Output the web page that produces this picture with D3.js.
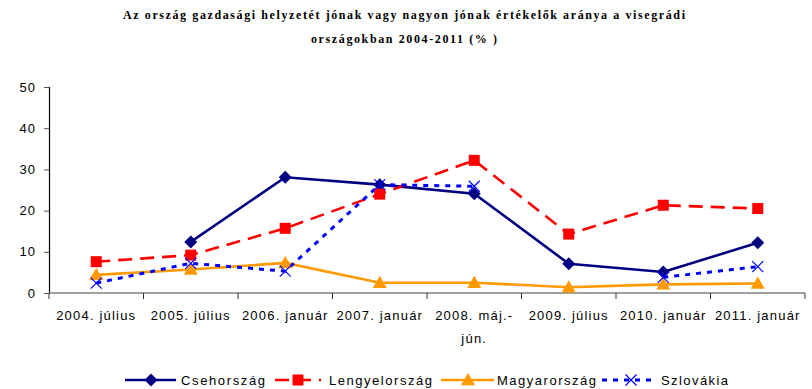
<!DOCTYPE html>
<html>
<head>
<meta charset="utf-8">
<script src="https://cdn.jsdelivr.net/npm/d3@7/dist/d3.min.js"></script>
<style>
  html, body { margin: 0; padding: 0; background: #fff; }
  svg { display: block; }
  .tick text { font-family: "Liberation Sans", Arial, sans-serif; font-size: 13px; fill: #000; letter-spacing: 1px; }
</style>
</head>
<body>
<svg id="chart" width="812" height="389"></svg>
<script>
// Survey periods (x axis)
const categories = [
  "2004. július", "2005. július", "2006. január", "2007. január",
  "2008. máj.-\njún.", "2009. július", "2010. január", "2011. január"
];

// Share of respondents rating the economy good or very good (%)
const csehorszag    = [null, 12.4, 28.1, 26.3, 24.1, 7.1, 5.1, 12.2];
const lengyelorszag = [7.6, 9.2, 15.7, 24.0, 32.2, 14.3, 21.3, 20.5];
const magyarorszag  = [4.4, 5.7, 7.3, 2.5, 2.5, 1.4, 2.1, 2.3];
const szlovakia     = [2.4, 7.2, 5.3, 26.3, 25.9, null, 3.8, 6.4];

const yTicks = [0, 10, 20, 30, 40, 50];

const titleLines = [
  "Az ország gazdasági helyzetét jónak vagy nagyon jónak értékelők aránya a visegrádi",
  "országokban 2004-2011 (% )"
];

const series = [
  { name: "Csehország",    values: csehorszag,    color: "#000080", dash: null,    marker: "diamond" },
  { name: "Lengyelország", values: lengyelorszag, color: "#FF0000", dash: "14,8",  marker: "square" },
  { name: "Magyarország",  values: magyarorszag,  color: "#FF9900", dash: null,    marker: "triangle" },
  { name: "Szlovákia",     values: szlovakia,     color: "#0000FF", dash: "5,6",   marker: "cross" }
];

const svg = d3.select("#chart");
const margin = { left: 49, right: 7, top: 87, bottom: 96 };
const W = 812, H = 389;

const x = d3.scaleBand().domain(d3.range(categories.length))
  .range([margin.left, W - margin.right]).paddingInner(0).paddingOuter(0);
const y = d3.scaleLinear().domain([0, 50]).range([H - margin.bottom, margin.top]);

// Title
const title = svg.append("g")
  .attr("font-family", "'Liberation Serif', 'Times New Roman', serif")
  .attr("font-weight", "bold")
  .attr("font-size", 12)
  .attr("fill", "#000")
  .attr("text-anchor", "middle");
title.append("text").attr("x", 404).attr("y", 19)
  .attr("textLength", 562).attr("lengthAdjust", "spacing").text(titleLines[0]);
title.append("text").attr("x", 404).attr("y", 43)
  .attr("textLength", 186).attr("lengthAdjust", "spacing").text(titleLines[1]);

// Y axis
const yAxis = svg.append("g")
  .attr("transform", `translate(${margin.left},0)`)
  .call(d3.axisLeft(y).tickValues(yTicks).tickSize(5).tickPadding(8).tickFormat(d3.format("d")));
yAxis.select(".domain").attr("stroke", "#000").attr("stroke-width", 1.2);
yAxis.selectAll(".tick line").attr("stroke", "#555");

// X axis: ticks on band boundaries, labels centered in bands
const xAxisG = svg.append("g").attr("transform", `translate(0,${y(0)})`);
xAxisG.append("line")
  .attr("x1", x.range()[0]).attr("x2", x.range()[1])
  .attr("y1", 0).attr("y2", 0)
  .attr("stroke", "#808080").attr("stroke-width", 1.5);
const bounds = d3.range(categories.length + 1).map(i => i < categories.length ? x(i) : x.range()[1]);
xAxisG.selectAll("line.tk").data(bounds).join("line")
  .attr("class", "tk")
  .attr("x1", d => d).attr("x2", d => d)
  .attr("y1", 0).attr("y2", 6)
  .attr("stroke", "#333").attr("stroke-width", 1);
const xl = xAxisG.selectAll("text.xl").data(categories).join("text")
  .attr("class", "xl")
  .attr("font-family", "'Liberation Sans', Arial, sans-serif")
  .attr("font-size", 13)
  .attr("letter-spacing", "1.2px")
  .attr("text-anchor", "middle")
  .attr("fill", "#000");
xl.each(function (d, i) {
  const t = d3.select(this);
  d.split("\n").forEach((line, k) => {
    t.append("tspan")
      .attr("x", x(i) + x.bandwidth() / 2)
      .attr("y", 27 + k * 23)
      .text(line);
  });
});

// Markers
function drawMarker(g, type, cx, cy, color) {
  if (type === "diamond") {
    const s = 6.5;
    g.append("path")
      .attr("d", `M${cx},${cy - s}L${cx + s},${cy}L${cx},${cy + s}L${cx - s},${cy}Z`)
      .attr("fill", color);
  } else if (type === "square") {
    const s = 5.5;
    g.append("rect").attr("x", cx - s).attr("y", cy - s)
      .attr("width", 2 * s).attr("height", 2 * s).attr("fill", color);
  } else if (type === "triangle") {
    const s = 7;
    g.append("path")
      .attr("d", `M${cx},${cy - s}L${cx + s},${cy + s * 0.75}L${cx - s},${cy + s * 0.75}Z`)
      .attr("fill", color);
  } else if (type === "cross") {
    const s = 5.5;
    g.append("path")
      .attr("d", `M${cx - s},${cy - s}L${cx + s},${cy + s}M${cx - s},${cy + s}L${cx + s},${cy - s}`)
      .attr("stroke", color).attr("stroke-width", 1.2).attr("fill", "none");
  }
}

const line = d3.line()
  .defined(d => d != null)
  .x((d, i) => x(i) + x.bandwidth() / 2)
  .y(d => y(d));

const plot = svg.append("g");
series.forEach(s => {
  plot.append("path")
    .attr("d", line(s.values))
    .attr("fill", "none")
    .attr("stroke", s.color)
    .attr("stroke-width", s.marker === "cross" ? 3 : 2.6)
    .attr("stroke-dasharray", s.dash);
});
series.forEach(s => {
  const g = plot.append("g");
  s.values.forEach((v, i) => {
    if (v == null) return;
    drawMarker(g, s.marker, x(i) + x.bandwidth() / 2, y(v), s.color);
  });
});

// Legend
const legendItems = [
  { x1: 125, x2: 176, mx: 151, tx: 181, tw: 84 },
  { x1: 275, x2: 321, mx: 298, tx: 329, tw: 103 },
  { x1: 441, x2: 494, mx: 468, tx: 497, tw: 99 },
  { x1: 602, x2: 657, mx: 631, tx: 661, tw: 67 }
];
const legend = svg.append("g");
const ly = 380;
series.forEach((s, i) => {
  const p = legendItems[i];
  legend.append("line")
    .attr("x1", p.x1).attr("x2", p.x2).attr("y1", ly).attr("y2", ly)
    .attr("stroke", s.color)
    .attr("stroke-width", s.marker === "cross" ? 3 : 2.6)
    .attr("stroke-dasharray", s.dash);
  drawMarker(legend, s.marker, p.mx, ly, s.color);
  legend.append("text")
    .attr("x", p.tx).attr("y", ly + 5)
    .attr("font-family", "'Liberation Sans', Arial, sans-serif")
    .attr("font-size", 13)
    .attr("textLength", p.tw).attr("lengthAdjust", "spacing")
    .attr("fill", "#000")
    .text(s.name);
});
</script>
</body>
</html>
